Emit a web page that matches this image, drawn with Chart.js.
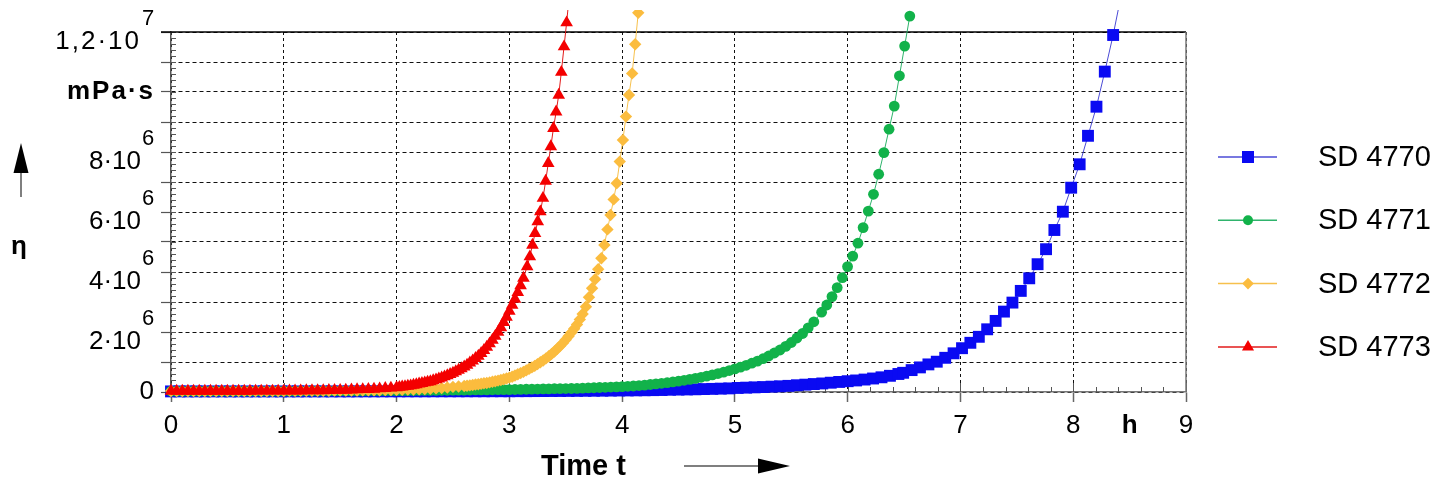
<!DOCTYPE html>
<html>
<head>
<meta charset="utf-8">
<script src="https://cdn.jsdelivr.net/npm/chart.js"></script>
<style>
  html, body { margin: 0; padding: 0; background: #fff; }
  #wrap { width: 1451px; height: 485px; }
</style>
</head>
<body>
<div id="wrap"><canvas id="myChart" width="1451" height="485"></canvas></div>
<script>
// time t in h, viscosity eta in 10^6 mPa·s
const tBlue = [0,0.075,0.15,0.225,0.3,0.375,0.45,0.525,0.6,0.675,0.75,0.825,0.9,0.975,1.05,1.125,1.2,1.275,1.35,1.425,
  1.5,1.575,1.65,1.725,1.8,1.875,1.95,2.025,2.1,2.175,2.25,2.325,2.4,2.475,2.55,2.625,2.7,2.775,2.85,2.925,
  3,3.075,3.15,3.225,3.3,3.375,3.45,3.525,3.6,3.675,3.75,3.825,3.9,3.975,4.05,4.125,4.2,4.275,4.35,4.425,
  4.5,4.575,4.65,4.725,4.8,4.875,4.95,5.025,5.1,5.175,5.25,5.325,5.4,5.475,5.55,5.625,5.7,5.775,5.85,5.925,
  6,6.075,6.15,6.225,6.3,6.375,6.45,
  6.492,6.567,6.641,6.716,6.79,6.865,6.939,7.014,7.088,7.163,7.237,7.312,7.386,7.461,7.535,7.61,7.684,7.759,
  7.833,7.908,7.982,8.057,8.131,8.206,8.28,8.354,8.429];
const etaBlue = [0.02,0.02,0.02,0.02,0.02,0.02,0.02,0.02,0.02,0.02,0.02,0.02,0.02,0.02,0.02,0.02,0.02,0.02,0.02,0.02,
  0.02,0.02,0.02,0.021,0.021,0.021,0.021,0.022,0.022,0.022,0.022,0.023,0.023,0.023,0.023,0.024,0.024,0.024,0.025,0.025,
  0.025,0.027,0.028,0.03,0.031,0.033,0.034,0.036,0.038,0.04,0.042,0.044,0.047,0.05,0.052,0.055,0.058,0.062,0.066,0.075,
  0.08,0.085,0.09,0.097,0.104,0.112,0.12,0.135,0.145,0.155,0.165,0.178,0.19,0.205,0.225,0.245,0.265,0.285,0.31,0.335,
  0.36,0.385,0.415,0.45,0.49,0.54,0.6,
  0.64,0.73,0.82,0.92,1.01,1.14,1.29,1.46,1.64,1.84,2.09,2.37,2.68,2.98,3.37,3.79,4.26,4.76,
  5.4,6.01,6.81,7.59,8.54,9.51,10.68,11.9,13.3];

const tGreen = [0,0.05,0.1,0.15,0.2,0.25,0.3,0.35,0.4,0.45,0.5,0.55,0.6,0.65,0.7,0.75,0.8,0.85,0.9,0.95,
  1,1.05,1.1,1.15,1.2,1.25,1.3,1.35,1.4,1.45,1.5,1.55,1.6,1.65,1.7,1.75,1.8,1.85,1.9,1.95,
  2,2.05,2.1,2.15,2.2,2.25,2.3,2.35,2.4,2.45,2.5,2.55,2.6,2.65,2.7,2.75,2.8,2.85,2.9,2.95,
  3,3.05,3.1,3.15,3.2,3.25,3.3,3.35,3.4,3.45,3.5,3.55,3.6,3.65,3.7,3.75,3.8,3.85,3.9,3.95,
  4,4.05,4.1,4.15,4.2,4.25,4.3,4.35,4.4,4.45,4.5,4.55,4.6,4.65,4.7,4.75,4.8,4.85,4.9,4.95,
  5,5.05,5.1,5.15,5.2,5.25,5.3,5.35,5.4,5.45,5.5,5.55,5.6,5.65,5.7,
  5.769,5.815,5.861,5.907,5.953,5.999,6.045,6.091,6.137,6.183,6.229,6.275,6.321,6.367,6.413,6.459,6.505,6.551];
const etaGreen = [0.03,0.03,0.03,0.03,0.03,0.03,0.03,0.03,0.03,0.03,0.03,0.03,0.03,0.03,0.03,0.03,0.03,0.03,0.03,0.03,
  0.03,0.03,0.031,0.032,0.032,0.033,0.033,0.034,0.034,0.035,0.035,0.036,0.037,0.038,0.039,0.04,0.041,0.042,0.043,0.044,
  0.045,0.046,0.048,0.049,0.051,0.052,0.054,0.055,0.057,0.058,0.06,0.062,0.064,0.066,0.068,0.07,0.072,0.074,0.076,0.078,
  0.08,0.084,0.088,0.091,0.095,0.099,0.102,0.106,0.11,0.112,0.115,0.117,0.12,0.127,0.135,0.142,0.15,0.157,0.165,0.172,
  0.18,0.19,0.2,0.215,0.23,0.25,0.27,0.29,0.31,0.335,0.36,0.39,0.42,0.455,0.49,0.53,0.57,0.615,0.66,0.715,
  0.77,0.83,0.89,0.96,1.03,1.11,1.2,1.3,1.4,1.52,1.65,1.8,1.95,2.14,2.34,
  2.66,2.9,3.18,3.48,3.81,4.18,4.53,4.96,5.48,6.03,6.59,7.26,7.98,8.76,9.53,10.54,11.53,12.53];

const tYellow = [0,0.05,0.1,0.15,0.2,0.25,0.3,0.35,0.4,0.45,0.5,0.55,0.6,0.65,0.7,0.75,0.8,0.85,0.9,0.95,
  1,1.05,1.1,1.15,1.2,1.25,1.3,1.35,1.4,1.45,1.5,1.55,1.6,1.65,1.7,1.75,1.8,1.85,1.9,1.95,
  2,2.05,2.1,2.15,2.2,2.25,2.3,2.35,2.4,2.45,2.5,2.55,
  2.6,2.625,2.65,2.675,2.7,2.725,2.75,2.775,2.8,2.825,2.85,2.875,2.9,2.925,2.95,2.975,
  3,3.025,3.05,3.075,3.1,3.125,3.15,3.175,3.2,3.225,3.25,3.275,3.3,3.325,3.35,3.375,3.4,3.425,3.45,3.475,
  3.5,3.525,3.55,3.575,3.6,3.625,3.65,
  3.679,3.706,3.734,3.761,3.788,3.816,3.843,3.87,3.897,3.925,3.952,3.979,4.007,4.034,4.061,4.089,4.116,4.143];
const etaYellow = [0.03,0.03,0.03,0.03,0.03,0.03,0.03,0.03,0.03,0.03,0.03,
  0.035,0.035,0.035,0.035,0.035,0.035,0.035,0.035,0.035,0.035,
  0.037,0.038,0.039,0.04,0.041,0.042,0.043,0.044,0.045,0.046,
  0.048,0.05,0.052,0.054,0.056,0.058,0.06,0.063,0.066,0.07,
  0.075,0.08,0.085,0.09,0.1,0.11,0.12,0.13,0.15,0.17,0.185,
  0.2,0.21,0.22,0.235,0.25,0.26,0.275,0.29,0.3,0.32,0.34,0.36,0.38,0.4,0.425,0.45,
  0.48,0.51,0.55,0.59,0.63,0.67,0.72,0.77,0.82,0.87,0.93,0.99,1.05,1.12,1.19,1.27,1.35,1.44,1.53,1.63,
  1.74,1.86,1.98,2.11,2.25,2.42,2.6,
  2.84,3.16,3.46,3.76,4.09,4.46,4.9,5.42,5.9,6.42,6.96,7.68,8.4,9.18,9.9,10.62,11.59,12.64];

const tRed = [0,0.05,0.1,0.15,0.2,0.25,0.3,0.35,0.4,0.45,0.5,0.55,0.6,0.65,0.7,0.75,0.8,0.85,0.9,0.95,
  1,1.05,1.1,1.15,1.2,1.25,1.3,1.35,1.4,1.45,1.5,1.55,1.6,1.65,1.7,1.75,1.8,1.85,1.9,1.95,2,
  2.025,2.05,2.075,2.1,2.125,2.15,2.175,2.2,2.225,2.25,2.275,2.3,2.325,2.35,2.375,2.4,2.425,2.45,2.475,2.5,
  2.525,2.55,2.575,2.6,2.625,2.65,2.675,2.7,2.725,2.75,2.775,2.8,2.825,2.85,2.875,2.9,2.925,2.95,2.975,3,
  3.025,3.05,3.075,3.1,3.125,
  3.158,3.182,3.205,3.228,3.252,3.275,3.298,3.322,3.345,3.368,3.391,3.415,3.438,3.461,3.485,3.508,3.531];
const etaRed = [0.03,0.03,0.03,0.03,0.03,0.03,0.03,0.03,0.03,0.03,0.03,0.03,0.03,0.03,0.03,
  0.035,0.035,0.035,0.035,0.035,0.035,0.04,0.04,0.04,0.045,0.045,0.05,0.05,0.055,0.06,0.06,
  0.065,0.07,0.08,0.085,0.09,0.1,0.11,0.12,0.135,0.15,
  0.16,0.17,0.185,0.2,0.21,0.23,0.25,0.27,0.29,0.31,0.33,0.35,0.38,0.41,0.44,0.47,0.51,0.55,0.59,0.63,
  0.68,0.73,0.78,0.84,0.9,0.97,1.04,1.12,1.2,1.29,1.39,1.5,1.61,1.73,1.86,2,2.15,2.32,2.5,2.7,
  2.9,3.1,3.32,3.55,3.8,
  4.18,4.51,4.9,5.29,5.68,6.01,6.46,7.03,7.62,8.18,8.79,9.34,9.9,10.66,11.51,12.31,13.2];

const seriesNames = ["SD 4770", "SD 4771", "SD 4772", "SD 4773"];

const xTickValues = [0, 1, 2, 3, 4, 5, 6, 7, 8, 8.5, 9];
const xTickLabels = ["0", "1", "2", "3", "4", "5", "6", "7", "8", "h", "9"];
const yGridValues = [0, 1, 2, 3, 4, 5, 6, 7, 8, 9, 10, 11, 12];
const yLabelValues = [0, 2, 4, 6, 8, 10, 12];
const yLabelTexts = ["0", "2·10^6", "4·10^6", "6·10^6", "8·10^6", "mPa·s", "1,2·10^7"];

const FONT = '"Liberation Sans", Arial, sans-serif';

function pairs(t, v) {
  return t.map((x, i) => ({ x: x, y: v[i] }));
}

function series(label, t, v, line, fill, style, radius, order) {
  return {
    label: label,
    data: pairs(t, v),
    borderColor: line,
    borderWidth: 1,
    pointStyle: style,
    pointRadius: radius,
    pointBackgroundColor: fill,
    pointBorderColor: fill,
    pointBorderWidth: 0,
    tension: 0,
    order: order,
    clip: { left: 10, top: 22, right: 10, bottom: 10 }
  };
}

// extra drawing: frame, minor ticks, y labels, axis names, legend
const decorations = {
  id: "decorations",
  beforeDatasetsDraw(chart) {
    const { ctx, chartArea: a, scales: { x, y } } = chart;
    ctx.save();
    ctx.strokeStyle = "#555";
    ctx.lineWidth = 1;
    ctx.beginPath();
    for (let v = 0; v <= 12.001; v += 0.2) {
      const py = Math.round(y.getPixelForValue(v)) + 0.5;
      ctx.moveTo(a.left, py);
      ctx.lineTo(a.left + 5, py);
    }
    for (let v = 0; v <= 9.001; v += 0.2) {
      const px = Math.round(x.getPixelForValue(v)) + 0.5;
      const major = Math.abs(v - Math.round(v)) < 0.01;
      ctx.moveTo(px, a.bottom);
      ctx.lineTo(px, a.bottom - (major ? 9 : 5));
    }
    ctx.stroke();
    // top and right frame
    ctx.lineWidth = 1.5;
    ctx.strokeStyle = "#000";
    ctx.beginPath();
    ctx.moveTo(a.left - 10, a.top);
    ctx.lineTo(a.right, a.top);
    ctx.stroke();
    ctx.strokeStyle = "#777";
    ctx.beginPath();
    ctx.moveTo(a.right, a.top);
    ctx.lineTo(a.right, a.bottom);
    ctx.stroke();
    ctx.restore();
  },
  // markers just above the frame are skipped by the library, draw them here
  afterDatasetDraw(chart, args) {
    const { ctx, chartArea: a } = chart;
    const wide = { left: -50, top: -50, right: chart.width + 50, bottom: chart.height + 50 };
    ctx.save();
    ctx.beginPath();
    ctx.rect(0, a.top - 22, chart.width, chart.height);
    ctx.clip();
    args.meta.data.forEach((p) => {
      if (p.y < a.top - p.options.radius + 1) p.draw(ctx, wide);
    });
    ctx.restore();
  },
  afterDraw(chart) {
    const { ctx, chartArea: a, scales: { y } } = chart;
    ctx.save();
    ctx.fillStyle = "#000";
    ctx.textBaseline = "middle";
    yLabelValues.forEach((v, i) => {
      const py = y.getPixelForValue(v);
      const txt = yLabelTexts[i];
      if (txt.indexOf("^") >= 0) {
        const parts = txt.split("^");
        ctx.font = "26px " + FONT;
        ctx.letterSpacing = parts[0].length > 4 ? "2px" : "0px";
        ctx.textAlign = "right";
        ctx.fillText(parts[0], a.left - 30, py + 10);
        ctx.letterSpacing = "0px";
        ctx.font = "22px " + FONT;
        ctx.textAlign = "left";
        ctx.fillText(parts[1], a.left - 29, py - 13);
      } else if (txt === "0") {
        ctx.font = "26px " + FONT;
        ctx.textAlign = "right";
        ctx.fillText(txt, a.left - 17, py);
      } else {
        ctx.font = "bold 26px " + FONT;
        ctx.letterSpacing = "2px";
        ctx.textAlign = "right";
        ctx.fillText(txt, a.left - 16, py);
        ctx.letterSpacing = "0px";
      }
    });

    // eta with arrow
    ctx.font = "bold 26px " + FONT;
    ctx.textAlign = "center";
    ctx.fillText("η", 19, 247);
    ctx.strokeStyle = "#555";
    ctx.lineWidth = 1.5;
    ctx.beginPath();
    ctx.moveTo(21, 172);
    ctx.lineTo(21, 197);
    ctx.stroke();
    ctx.beginPath();
    ctx.moveTo(13.5, 173);
    ctx.lineTo(28.5, 173);
    ctx.lineTo(21, 143);
    ctx.closePath();
    ctx.fill();

    // time axis name with arrow
    ctx.font = "bold 29px " + FONT;
    ctx.textAlign = "left";
    ctx.fillText("Time t", 541, 467);
    ctx.beginPath();
    ctx.moveTo(684, 466);
    ctx.lineTo(762, 466);
    ctx.stroke();
    ctx.beginPath();
    ctx.moveTo(758, 458.5);
    ctx.lineTo(790, 466);
    ctx.lineTo(758, 473.5);
    ctx.closePath();
    ctx.fill();

    // legend
    const legendRadius = [8.5, 5, 5.8, 7];
    chart.data.datasets.forEach((ds, i) => {
      const ly = 157 + i * 63.3;
      ctx.strokeStyle = ds.borderColor;
      ctx.lineWidth = 1.5;
      ctx.beginPath();
      ctx.moveTo(1218, ly);
      ctx.lineTo(1277, ly);
      ctx.stroke();
      ctx.fillStyle = ds.pointBackgroundColor;
      Chart.helpers.drawPoint(ctx, { pointStyle: ds.pointStyle, radius: legendRadius[i], rotation: 0, borderWidth: 0 }, 1248, ly);
      ctx.fillStyle = "#000";
      ctx.font = "29px " + FONT;
      ctx.textAlign = "left";
      ctx.fillText(ds.label, 1318, ly + 1);
    });
    ctx.restore();
  }
};

const ctx = document.getElementById("myChart").getContext("2d");
const myChart = new Chart(ctx, {
  type: "line",
  data: {
    datasets: [
      series(seriesNames[0], tBlue, etaBlue, "#4b4bd6", "#0a0af2", "rect", 8.4, 4),
      series(seriesNames[1], tGreen, etaGreen, "#2fb36c", "#12b24a", "circle", 5.4, 3),
      series(seriesNames[2], tYellow, etaYellow, "#f6c04c", "#fbbc3e", "rectRot", 6.2, 2),
      series(seriesNames[3], tRed, etaRed, "#e21b1b", "#f40000", "triangle", 7.3, 1)
    ]
  },
  options: {
    responsive: false,
    animation: false,
    devicePixelRatio: 1,
    layout: { padding: { left: 0, top: 32, right: 265, bottom: 0 } },
    plugins: { legend: { display: false }, tooltip: { enabled: false } },
    scales: {
      x: {
        type: "linear",
        min: 0,
        max: 9,
        afterBuildTicks: (s) => { s.ticks = xTickValues.map((v) => ({ value: v })); },
        afterFit: (s) => { s.height = 93; },
        ticks: {
          autoSkip: false,
          maxRotation: 0,
          padding: 8,
          color: "#000",
          font: (c) => ({ family: FONT, size: 26, weight: c.tick && c.tick.value === 8.5 ? "bold" : "normal" }),
          callback: (v, i) => xTickLabels[i]
        },
        grid: {
          color: (c) => (c.tick && c.tick.value === 8.5 ? "rgba(0,0,0,0)" : "#111"),
          lineWidth: 1,
          tickLength: 10,
          tickColor: (c) => (c.tick && c.tick.value === 8.5 ? "rgba(0,0,0,0)" : "#666"),
          tickWidth: 1.5
        },
        border: { color: "#777", width: 1.5, dash: [3, 3] }
      },
      y: {
        min: 0,
        max: 12,
        afterBuildTicks: (s) => { s.ticks = yGridValues.map((v) => ({ value: v })); },
        afterFit: (s) => { s.width = 171; },
        ticks: { display: false },
        grid: { color: "#111", lineWidth: 1, tickLength: 10, tickColor: "#555", tickWidth: 1.2 },
        border: { color: "#555", width: 1.5, dash: [4, 3] }
      }
    }
  },
  plugins: [decorations]
});
</script>
</body>
</html>
